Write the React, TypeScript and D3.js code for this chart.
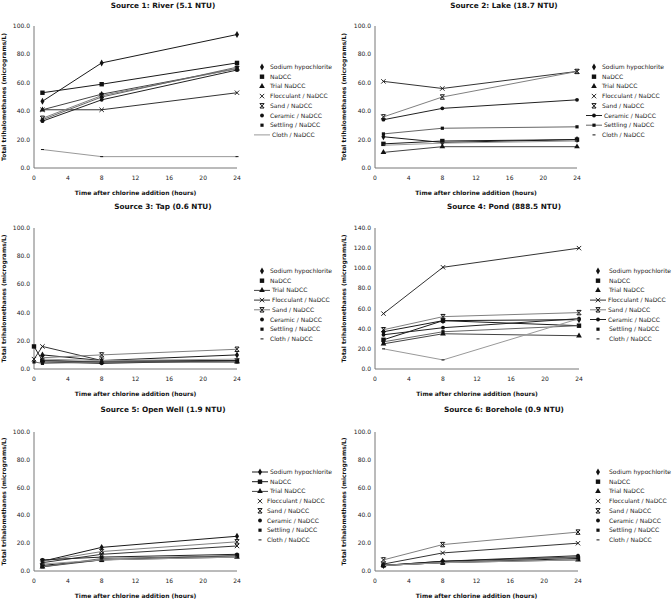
import React from "react";
import * as d3 from "d3";

const SERIES = [
  "Sodium hypochlorite",
  "NaDCC",
  "Trial NaDCC",
  "Flocculant / NaDCC",
  "Sand / NaDCC",
  "Ceramic / NaDCC",
  "Settling / NaDCC",
  "Cloth / NaDCC",
];
const TITLES = [
  "Source 1:  River (5.1 NTU)",
  "Source 2:  Lake (18.7 NTU)",
  "Source 3:  Tap (0.6 NTU)",
  "Source 4:  Pond (888.5 NTU)",
  "Source 5:  Open Well (1.9 NTU)",
  "Source 6:  Borehole (0.9 NTU)",
];
const TIMES = [1, 8, 24];
const TIMES_TAP = [0, 1, 8, 24];
const X_TICKS = [0, 4, 8, 12, 16, 20, 24];
const Y_TICKS_100 = [0, 20, 40, 60, 80, 100];
const Y_TICKS_140 = [0, 20, 40, 60, 80, 100, 120, 140];
const X_TITLE = "Time after chlorine addition (hours)";
const Y_TITLE = "Total trihalomethanes (micrograms/L)";

type V = number | null;
const RIVER: V[][] = [
  [47, 74, 94], [53, 59, 74], [41, 52, 70], [41, 41, 53],
  [35, 51, 70], [33, 48, 69], [34, 50, 71], [13, 8, 8],
];
const LAKE: V[][] = [
  [22, 18, 20], [17, 19, 20], [11, 15, 15], [61, 56, 68],
  [36, 50, 68], [34, 42, 48], [24, 28, 29], [16, 17.5, 19],
];
const TAP: V[][] = [
  [null, 10, 6, 10], [16, 6, 5, 6], [null, 6, 5, 5], [7, 16, 6, 6],
  [null, 8, 10, 14], [null, 5, 4, 6], [5, 4, 5, 5], [null, 7, 6, 7],
];
const POND: V[][] = [
  [37, 48, 49], [29, 48, 43], [25, 35, 33], [55, 101, 120],
  [39, 52, 56], [34, 41, 50], [27, 37, 43], [20, 9, 50],
];
const OPEN_WELL: V[][] = [
  [7, 17, 25], [4, 8, 11], [3, 8, 10], [6, 12, 18],
  [7, 14, 21], [8, 10, 12], [3, 9, 11], [5, 8, 10],
];
const BOREHOLE: V[][] = [
  [4, 7, 10], [4, 6, 9], [4, 6, 8], [5, 13, 20],
  [8, 19, 28], [4, 7, 11], [4, 6, 10], [4, 6, 8],
];

const SOURCES = [RIVER, LAKE, TAP, POND, OPEN_WELL, BOREHOLE];
const SOURCE_TIMES = [TIMES, TIMES, TIMES_TAP, TIMES, TIMES, TIMES];
const SOURCE_YMAX = [100, 100, 100, 140, 100, 100];
const SOURCE_YTICKS = [Y_TICKS_100, Y_TICKS_100, Y_TICKS_100, Y_TICKS_140, Y_TICKS_100, Y_TICKS_100];
const LEGEND_LINES = [[7], [5, 6], [2, 3, 4], [3, 4, 5], [0, 1, 2], []];

// layout (positions/styles)
const LAYOUT = [
  { ox: 0, oy: 0, left: 34, right: 237, top: 26, bottom: 168, titleY: 8, ytX: 6, legX: 262, legTX: 270, legY: 67 },
  { ox: 336, oy: 0, left: 39, right: 241, top: 26, bottom: 168, titleY: 8, ytX: 10, legX: 258, legTX: 266, legY: 67 },
  { ox: 0, oy: 200, left: 34, right: 237, top: 28, bottom: 169, titleY: 9, ytX: 6, legX: 262, legTX: 270, legY: 71 },
  { ox: 336, oy: 200, left: 39, right: 243, top: 28, bottom: 169, titleY: 9, ytX: 10, legX: 262, legTX: 273, legY: 71 },
  { ox: 0, oy: 400, left: 34, right: 237, top: 32, bottom: 171, titleY: 12, ytX: 6, legX: 260, legTX: 267, legY: 72 },
  { ox: 336, oy: 400, left: 39, right: 242, top: 32, bottom: 171, titleY: 12, ytX: 10, legX: 262, legTX: 273, legY: 72 },
];
const COLORS = ["#1a1a1a", "#1a1a1a", "#444", "#333", "#808080", "#222", "#666", "#999"];
const FONT = "'DejaVu Sans', Verdana, sans-serif";

function Marker({ i, x, y }: { i: number; x: number; y: number }) {
  const c = "#111";
  switch (i) {
    case 0:
      return <path d={d3.symbol(d3.symbolDiamond, 14)()!} transform={`translate(${x},${y})`} fill={c} />;
    case 1:
      return <rect x={x - 2.2} y={y - 2.2} width={4.4} height={4.4} fill={c} />;
    case 2:
      return <path d={d3.symbol(d3.symbolTriangle, 14)()!} transform={`translate(${x},${y})`} fill={c} />;
    case 3:
      return <path d={`M${x - 2.2},${y - 2.2}L${x + 2.2},${y + 2.2}M${x - 2.2},${y + 2.2}L${x + 2.2},${y - 2.2}`} stroke={c} strokeWidth={0.9} />;
    case 4:
      return <path d={`M${x - 2.2},${y - 2.2}L${x + 2.2},${y + 2.2}M${x - 2.2},${y + 2.2}L${x + 2.2},${y - 2.2}M${x - 2},${y - 2.2}H${x + 2}M${x - 2},${y + 2.2}H${x + 2}`} stroke={c} strokeWidth={1} />;
    case 5:
      return <circle cx={x} cy={y} r={1.9} fill={c} />;
    case 6:
      return <rect x={x - 1.6} y={y - 1.6} width={3.2} height={3.2} fill={c} />;
    default:
      return <path d={`M${x - 1.5},${y}H${x + 1.5}`} stroke={c} strokeWidth={1} />;
  }
}

function Panel({ k }: { k: number }) {
  const L = LAYOUT[k];
  const data = SOURCES[k];
  const times = SOURCE_TIMES[k];
  const x = d3.scaleLinear().domain([0, 24]).range([L.left, L.right]);
  const y = d3.scaleLinear().domain([0, SOURCE_YMAX[k]]).range([L.bottom, L.top]);
  const line = d3.line<[number, number]>().x((d) => x(d[0])).y((d) => y(d[1]));
  const midX = (L.left + L.right) / 2;
  return (
    <g transform={`translate(${L.ox},${L.oy})`} fontFamily={FONT}>
      <text x={L.left + 129} y={L.titleY} textAnchor="middle" fontSize={7.3} fontWeight="bold" fill="#111">
        {TITLES[k]}
      </text>
      <line x1={L.left} x2={L.left} y1={L.top} y2={L.bottom} stroke="#777" strokeWidth={1} />
      <line x1={L.left} x2={L.right} y1={L.bottom} y2={L.bottom} stroke="#777" strokeWidth={1} />
      {SOURCE_YTICKS[k].map((t) => (
        <text key={t} x={L.left - 4} y={y(t) + 2} textAnchor="end" fontSize={6} fill="#222">
          {t.toFixed(1)}
        </text>
      ))}
      {X_TICKS.map((t) => (
        <text key={t} x={x(t)} y={L.bottom + 12} textAnchor="middle" fontSize={6} fill="#222">
          {t}
        </text>
      ))}
      <text x={midX} y={L.bottom + 27} textAnchor="middle" fontSize={6} fontWeight="bold" fill="#111">
        {X_TITLE}
      </text>
      <text
        transform={`translate(${L.ytX},${(L.top + L.bottom) / 2}) rotate(-90)`}
        textAnchor="middle"
        fontSize={6}
        fontWeight="bold"
        fill="#111"
      >
        {Y_TITLE}
      </text>
      {data.map((vals, i) => {
        const pts: [number, number][] = [];
        vals.forEach((v, j) => {
          if (v !== null) pts.push([times[j], v]);
        });
        return (
          <g key={i}>
            <path d={line(pts)!} fill="none" stroke={COLORS[i]} strokeWidth={1} />
            {pts.map((p, j) => (
              <Marker key={j} i={i} x={x(p[0])} y={y(p[1])} />
            ))}
          </g>
        );
      })}
      {SERIES.map((s, i) => {
        const ly = L.legY + i * 9.7;
        const hasLine = LEGEND_LINES[k].includes(i);
        return (
          <g key={s}>
            {hasLine && <line x1={L.legX - 8} x2={L.legX + 8} y1={ly} y2={ly} stroke={COLORS[i]} strokeWidth={1} />}
            {!(i === 7 && hasLine) && <Marker i={i} x={L.legX} y={ly} />}
            <text x={hasLine ? L.legX + 10 : L.legTX} y={ly + 2} fontSize={6} fill="#222">
              {s}
            </text>
          </g>
        );
      })}
    </g>
  );
}

export default function App() {
  return (
    <svg
      width={672}
      height={602}
      style={{ position: "absolute", left: 0, top: 0, background: "#fff" }}
    >
      <rect width={672} height={602} fill="#fff" />
      {[0, 1, 2, 3, 4, 5].map((k) => (
        <Panel key={k} k={k} />
      ))}
    </svg>
  );
}
